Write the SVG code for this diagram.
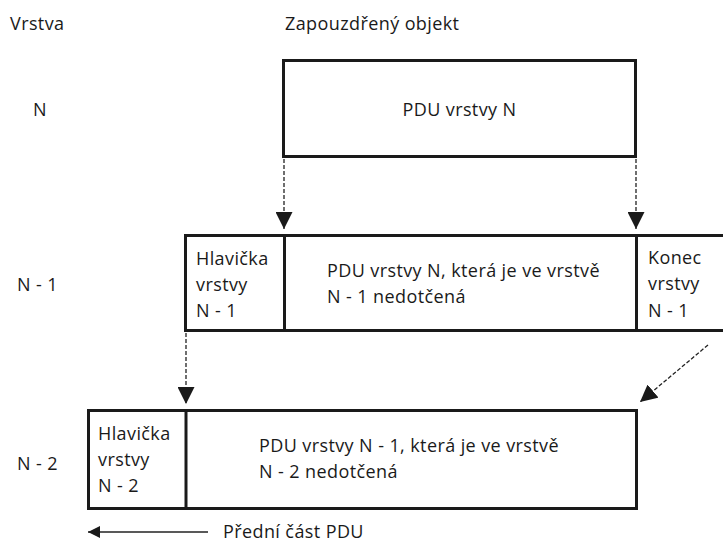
<svg xmlns="http://www.w3.org/2000/svg" width="723" height="543" viewBox="0 0 723 543">
<style>
text{font-family:"Open Sans","Noto Sans","Liberation Sans",sans-serif;font-size:18px;letter-spacing:0.4px;fill:#1a1a1a}
.box{fill:#fff;stroke:#1a1a1a;stroke-width:3}
.div{stroke:#1a1a1a;stroke-width:3}
.dash{stroke:#222;stroke-width:1.3;stroke-dasharray:4 2;fill:none}
.solid{stroke:#222;stroke-width:1.3;fill:none}
</style>
<defs>
<marker id="ah" viewBox="0 0 10 10" refX="10" refY="5" markerWidth="12" markerHeight="12" markerUnits="userSpaceOnUse" orient="auto">
<path d="M0,0 L10,5 L0,10 Z" fill="#1a1a1a"/>
</marker>
<marker id="ahs" viewBox="0 0 10 10" refX="10" refY="5" markerWidth="17" markerHeight="17" markerUnits="userSpaceOnUse" orient="auto">
<path d="M0,0 L10,5 L0,10 Z" fill="#1a1a1a"/>
</marker>
</defs>
<g id="labels">
<text x="10" y="30">Vrstva</text>
<text x="285" y="30">Zapouzdřený objekt</text>
<text x="33" y="116">N</text>
<text x="17" y="291">N - 1</text>
<text x="17" y="470">N - 2</text>
</g>
<g id="nodeN">
<rect class="box" x="283.5" y="60.5" width="352" height="96"/>
<text x="459.5" y="116" text-anchor="middle">PDU vrstvy N</text>
</g>
<g id="nodeN1">
<rect class="box" x="185.5" y="235.5" width="545" height="95"/>
<line class="div" x1="284.5" y1="235.5" x2="284.5" y2="330.5"/>
<line class="div" x1="636.5" y1="235.5" x2="636.5" y2="330.5"/>
<text x="196" y="265">Hlavička</text>
<text x="196" y="291">vrstvy</text>
<text x="196" y="317">N - 1</text>
<text x="327" y="277">PDU vrstvy N, která je ve vrstvě</text>
<text x="327" y="303">N - 1 nedotčená</text>
<text x="648" y="264">Konec</text>
<text x="648" y="290">vrstvy</text>
<text x="648" y="317">N - 1</text>
</g>
<g id="nodeN2">
<rect class="box" x="88.5" y="410.5" width="548" height="98"/>
<line class="div" x1="186" y1="410.5" x2="186" y2="508.5"/>
<text x="98" y="440">Hlavička</text>
<text x="98" y="466">vrstvy</text>
<text x="98" y="492">N - 2</text>
<text x="259" y="452">PDU vrstvy N - 1, která je ve vrstvě</text>
<text x="259" y="478">N - 2 nedotčená</text>
</g>
<g id="connectors">
<line class="dash" x1="284" y1="159" x2="284" y2="229" marker-end="url(#ahs)"/>
<line class="dash" x1="636" y1="159" x2="636" y2="229" marker-end="url(#ahs)"/>
<line class="dash" x1="186" y1="333" x2="186" y2="404" marker-end="url(#ahs)"/>
<line class="dash" x1="708" y1="345" x2="640" y2="402" marker-end="url(#ahs)"/>
<line class="solid" x1="208" y1="532" x2="88" y2="532" marker-end="url(#ah)"/>
<text x="223" y="538">Přední část PDU</text>
</g>
</svg>
